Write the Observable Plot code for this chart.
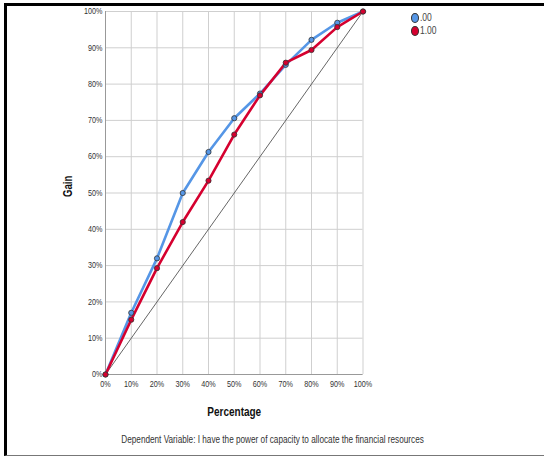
<!DOCTYPE html>
<html>
<head>
<meta charset="utf-8">
<script src="https://cdn.jsdelivr.net/npm/d3@7"></script>
<script src="https://cdn.jsdelivr.net/npm/@observablehq/plot@0.6"></script>
<style>
  html, body { margin: 0; padding: 0; background: #fff; }
  #wrap { position: relative; width: 544px; height: 457px; overflow: hidden; }
  #frame { position: absolute; left: 4px; top: 3px; width: 544px; height: 453px;
           border-left: 3px solid #000; border-top: 3px solid #000; border-bottom: 1px solid #777; box-sizing: border-box; pointer-events: none; }
  #legend { position: absolute; left: 411px; top: 11px; font-family: "Liberation Sans", Arial, sans-serif; font-size: 10px; color: #444; line-height: 13px; }
  #legend .row { display: flex; align-items: center; }
  #legend .sw { width: 8px; height: 10px; border-radius: 50%; border: 1px solid #333; margin-right: 1px; box-sizing: border-box; }
  #legend span { display: inline-block; transform: scaleX(0.85); transform-origin: left center; }
  #caption { position: absolute; left: 0; width: 544px; top: 434px; text-align: center; font-family: "Liberation Sans", Arial, sans-serif; font-size: 10px; color: #333; transform: scaleX(0.82); transform-origin: 275px center; }
</style>
</head>
<body>
<div id="wrap">
  <div id="chart"></div>
  <div id="legend"></div>
  <div id="caption"></div>
  <div id="frame"></div>
</div>
<script>
const percentages = [0, 10, 20, 30, 40, 50, 60, 70, 80, 90, 100];
const seriesNames = [".00", "1.00"];
const gain00 = [0, 17, 32, 50, 61.3, 70.6, 77.4, 85.3, 92.2, 96.9, 100];
const gain100 = [0, 15.1, 29.3, 42.0, 53.4, 66.1, 76.9, 85.9, 89.4, 95.7, 100];
const baseline = [0, 100];
const seriesColors = ["#5596e6", "#d5002f"];
const xLabel = "Percentage";
const yLabel = "Gain";
const captionText = "Dependent Variable: I have the power of capacity to allocate the financial resources";

const rows = [];
percentages.forEach((p, i) => rows.push({pct: p, gain: gain00[i], series: seriesNames[0]}));
percentages.forEach((p, i) => rows.push({pct: p, gain: gain100[i], series: seriesNames[1]}));
const diag = baseline.map(v => ({pct: v, gain: v}));

const font = '"Liberation Sans", Arial, sans-serif';

const chart = Plot.plot({
  width: 544,
  height: 457,
  marginLeft: 105,
  marginRight: 181.5,
  marginTop: 11,
  marginBottom: 83,
  style: {fontFamily: font, fontSize: "8.5px", color: "#333", background: "transparent"},
  x: {domain: [0, 100], ticks: percentages, tickFormat: d => d + "%"},
  y: {domain: [0, 100], ticks: percentages, tickFormat: d => d + "%"},
  color: {domain: seriesNames, range: seriesColors},
  marks: [
    Plot.gridX(percentages, {stroke: "#cfcfcf", strokeOpacity: 1, strokeWidth: 1}),
    Plot.gridY(percentages, {stroke: "#cfcfcf", strokeOpacity: 1, strokeWidth: 1}),
    Plot.axisX({ticks: percentages, tickSize: 0, tickPadding: 6, tickFormat: d => d + "%", label: null, className: "tk"}),
    Plot.axisY({ticks: percentages, tickSize: 0, tickPadding: 3, tickFormat: d => d + "%", label: null, className: "tk"}),
    Plot.ruleX([0], {stroke: "#999", strokeWidth: 1}),
    Plot.ruleY([0], {stroke: "#999", strokeWidth: 1}),
    Plot.line(diag, {x: "pct", y: "gain", stroke: "#555", strokeWidth: 0.9}),
    Plot.line(rows, {x: "pct", y: "gain", stroke: "series", strokeWidth: 2.6}),
    Plot.dot(rows, {x: "pct", y: "gain", fill: "series", stroke: "#333", strokeWidth: 0.8, r: 2.6}),
    Plot.text([yLabel], {frameAnchor: "left", dx: -37, rotate: -90, fontWeight: "bold", fontSize: 12, fill: "#111", dy: 4, className: "lbl"}),
    Plot.text([xLabel], {frameAnchor: "bottom", dy: 41, fontWeight: "bold", fontSize: 12.5, fill: "#111", className: "lbl"})
  ]
});
document.getElementById("chart").appendChild(chart);

// condense text to mimic a narrow face
function condense(sel, k) {
  chart.querySelectorAll(sel).forEach(t => {
    const tr = t.getAttribute("transform") || "";
    t.setAttribute("transform", (tr + " scale(" + k + ",1)").trim());
  });
}
condense("g.tk text", 0.85);
condense("g.lbl text", 0.8);

const legend = document.getElementById("legend");
seriesNames.forEach((n, i) => {
  const row = document.createElement("div");
  row.className = "row";
  const sw = document.createElement("div");
  sw.className = "sw";
  sw.style.background = seriesColors[i];
  row.appendChild(sw);
  const t = document.createElement("span");
  t.textContent = n;
  row.appendChild(t);
  legend.appendChild(row);
});
document.getElementById("caption").textContent = captionText;
</script>
</body>
</html>
